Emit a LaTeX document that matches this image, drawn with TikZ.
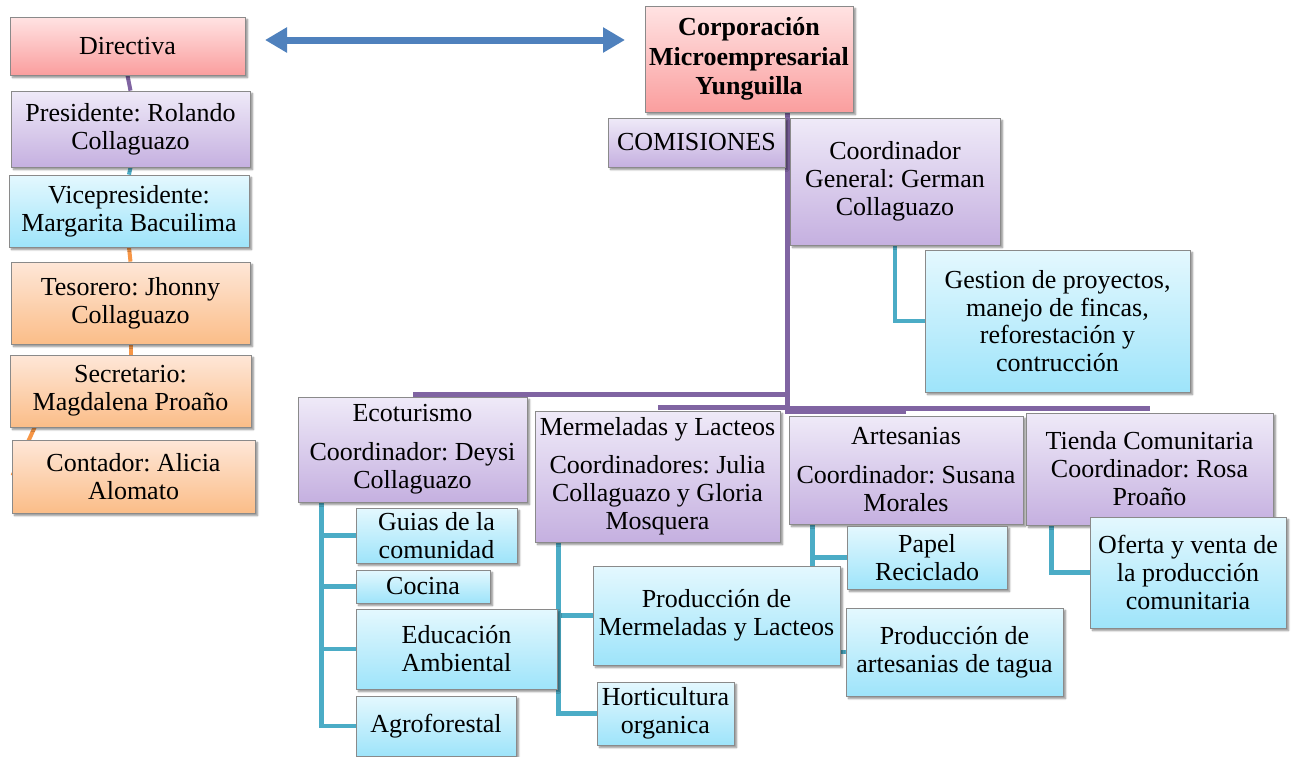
\documentclass[tikz,border=0pt]{standalone}
\usepackage{fontspec}
\setmainfont{Liberation Serif}
\frenchspacing
\usetikzlibrary{arrows.meta,shadows.blur,backgrounds}
\definecolor{pinkT}{HTML}{FFE3E3}
\definecolor{pinkB}{HTML}{FA9E9E}
\definecolor{purpT}{HTML}{EFEAF8}
\definecolor{purpB}{HTML}{C5B0E0}
\definecolor{cyanT}{HTML}{E4F8FE}
\definecolor{cyanB}{HTML}{9EE4FA}
\definecolor{oranT}{HTML}{FEE7D8}
\definecolor{oranB}{HTML}{FBBD88}
\definecolor{edge}{HTML}{8A8A8A}
\definecolor{arrowblue}{HTML}{4F81BD}
\definecolor{lpurp}{HTML}{8064A2}
\definecolor{lteal}{HTML}{4BACC6}
\definecolor{loran}{HTML}{F79646}
\tikzset{
  box/.style={draw=edge, line width=0.8pt, inner sep=0pt, align=center,
    font=\fontsize{26}{28}\selectfont,
    blur shadow={shadow xshift=2.5pt, shadow yshift=-2.5pt, shadow blur steps=6, shadow opacity=45}},
  pinkbox/.style={box, top color=pinkT, bottom color=pinkB},
  purpbox/.style={box, top color=purpT, bottom color=purpB},
  cyanbox/.style={box, top color=cyanT, bottom color=cyanB},
  oranbox/.style={box, top color=oranT, bottom color=oranB},
  sz/.style 2 args={minimum width=#1pt, minimum height=#2pt},
  pline/.style={draw=lpurp, line width=5pt},
  tline/.style={draw=lteal, line width=4.5pt},
  oline/.style={draw=loran, line width=4pt},
  pline2/.style={draw=lpurp, line width=4pt},
  tline2/.style={draw=lteal, line width=4pt},
  bigarrow/.style={draw=arrowblue, line width=7pt,
    {Triangle[length=22pt,width=24pt]}-{Triangle[length=22pt,width=24pt]}}
}
\begin{document}
\begin{tikzpicture}[x=1pt,y=-1pt]
\useasboundingbox (0,0) rectangle (1294,756);
% left column
\node[pinkbox, sz={235}{58}] (dir) at (127.5,46) {Directiva};
\node[purpbox, sz={239}{76}] (pres) at (130.5,129) {Presidente: Rolando\\Collaguazo};
\node[cyanbox, sz={240}{72}] (vice) at (129,211) {Vicepresidente:\\Margarita Bacuilima};
\node[oranbox, sz={239}{82}] (tes) at (130.5,303) {Tesorero: Jhonny\\Collaguazo};
\node[oranbox, sz={241}{72}] (sec) at (130.5,391) {Secretario:\\Magdalena Proaño};
\node[oranbox, sz={243}{73}] (cont) at (133.5,476.5) {Contador: Alicia\\Alomato};
% top right
\node[pinkbox, sz={208}{106}, font=\fontsize{26}{29.5}\selectfont\bfseries] (corp) at (749,59) {Corporación\\Microempresarial\\Yunguilla};
\node[purpbox, sz={177}{49}] (com) at (696.5,142.5) {COMISIONES};
\node[purpbox, sz={210}{127}] (coord) at (895,181.5) {Coordinador\\General: German\\Collaguazo};
\node[cyanbox, sz={265}{142}, font=\fontsize{26}{27.5}\selectfont] (gest) at (1057.5,321) {Gestion de proyectos,\\manejo de fincas,\\reforestación y\\contrucción};
% commissions
\node[purpbox, sz={229}{105}] (eco) at (412.5,449.5) {Ecoturismo\\[11pt]Coordinador: Deysi\\Collaguazo};
\node[purpbox, sz={245}{131}] (mer) at (657.5,476.5) {Mermeladas y Lacteos\\[10pt]Coordinadores: Julia\\Collaguazo y Gloria\\Mosquera};
\node[purpbox, sz={234}{108}] (art) at (906,470) {Artesanias\\[11pt]Coordinador: Susana\\Morales};
\node[purpbox, sz={247}{112}] (tie) at (1149.5,469) {Tienda Comunitaria\\Coordinador: Rosa\\Proaño};
% ecoturismo children
\node[cyanbox, sz={161}{55}] (guias) at (436.5,535.5) {Guias de la\\comunidad};
\node[cyanbox, sz={134}{33}] (cocina) at (423,586.5) {Cocina};
\node[cyanbox, sz={201}{80}] (edu) at (456.5,649) {Educación\\Ambiental};
\node[cyanbox, sz={160}{60}] (agro) at (436,726) {Agroforestal};
% artesanias children
\node[cyanbox, sz={160}{63}] (papel) at (927,557.5) {Papel\\Reciclado};
\node[cyanbox, sz={217}{88}] (proda) at (954.5,652) {Producción de\\artesanias de tagua};
% mermeladas children
\node[cyanbox, sz={247}{99}] (prodm) at (716.5,615.5) {Producción de\\Mermeladas y Lacteos};
\node[cyanbox, sz={137}{63}] (hort) at (665.5,713.5) {Horticultura\\organica};
% tienda child
\node[cyanbox, sz={196}{111}] (ofer) at (1188,572.5) {Oferta y venta de\\la producción\\comunitaria};
% arrow
\coordinate (al) at (265,40);
\coordinate (ar) at (625,40);
\draw[bigarrow] (al) -- (ar);
\begin{scope}[on background layer]
  % left column connectors
  \draw[pline2] (dir.south) -- (pres.north);
  \draw[tline2] (pres.south) -- (vice.north);
  \draw[oline] (vice.south) -- (tes.north);
  \draw[oline] (tes.south) -- (sec.north);
  \draw[oline] ([xshift=25pt]sec.south west) -- ([xshift=1pt,yshift=-36pt]cont.north west);
  % purple trunk and branches
  \draw[pline] ([xshift=38pt]corp.south) |- ([yshift=2pt]eco.north);
  \draw[pline] ([xshift=38pt]corp.south) |- ([yshift=3pt]mer.north);
  \draw[pline] ([xshift=38pt]corp.south) |- ([yshift=4pt]art.north);
  \draw[pline] ([xshift=38pt]corp.south) |- ([yshift=4pt]tie.north);
  % teal connectors
  \draw[tline] (coord.south) |- (gest.west);
  \draw[tline] ([xshift=24pt]eco.south west) |- (guias.west);
  \draw[tline] ([xshift=24pt]eco.south west) |- (cocina.west);
  \draw[tline] ([xshift=24pt]eco.south west) |- (edu.west);
  \draw[tline] ([xshift=24pt]eco.south west) |- (agro.west);
  \draw[tline] ([xshift=24pt]mer.south west) |- (prodm.west);
  \draw[tline] ([xshift=24pt]mer.south west) |- (hort.west);
  \draw[tline] ([xshift=24pt]art.south west) |- (papel.west);
  \draw[tline] ([xshift=24pt]art.south west) |- (proda.west);
  \draw[tline] ([xshift=26pt]tie.south west) |- (ofer.west);
\end{scope}
\end{tikzpicture}
\end{document}
